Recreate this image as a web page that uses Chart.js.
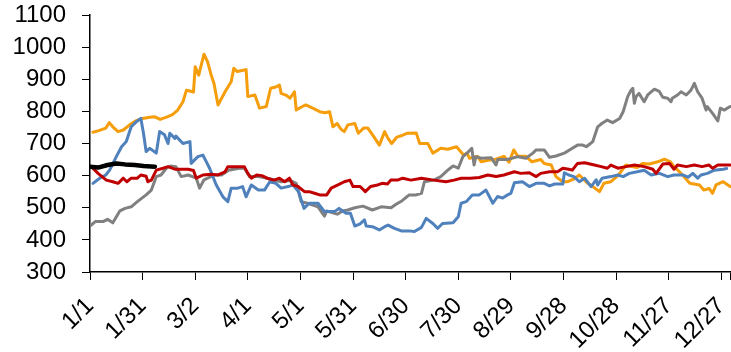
<!DOCTYPE html>
<html>
<head>
<meta charset="utf-8">
<script src="https://cdn.jsdelivr.net/npm/chart.js@4"></script>
<style>
  html, body { margin: 0; padding: 0; background: #fff; }
  #wrap { width: 731px; height: 352px; }
</style>
</head>
<body>
<div id="wrap"><canvas id="chart" width="731" height="352"></canvas></div>
<script>
// Day of year (0 = 1/1) and value pairs for each series
const tickDays = [0, 30, 60, 90, 120, 150, 180, 210, 240, 270, 300, 330, 360, 365];
const tickLabels = ['1/1', '1/31', '3/2', '4/1', '5/1', '5/31', '6/30', '7/30', '8/29', '9/28', '10/28', '11/27', '12/27', ''];

const orangeDays = [1.7,5,9,11,13,16,19,22.6,26,30,34,37,40,44,47,50,53,55,58,59,60,62,65,67,69,70.7,73,77,80.5,82,84,88,89,90,94,96.7,100.5,103,106,108,109,112,114,116.6,117.6,120,123,127,131,134,136.6,138.5,141,143,145,147,151,153,156,158.4,162,165,168,170,172,175,178,181,186,188,192.6,195.5,200,204,209,213,215,216.4,221,223,227,230.6,236,239,241.6,244,248.6,252,257,259,263,265.7,269.6,272.4,276,279,283.8,287,290.5,293,297,301,305.6,309,312,315,319,323.7,327.5,331,333,337,342,347.5,350,353,355,357,361,365];
const orangeValues = [735,740,748,765,752,737,742,758,770,778,782,783,775,783,790,804,830,866,862,860,939,913,978,955,915,887,820,861,892,934,924,929,930,846,851,810,815,872,876,882,856,850,841,861,804,812,820,810,799,796,799,752,762,745,737,758,762,732,748,748,720,695,737,715,700,720,725,732,733,700,700,670,685,682,690,664,670,654,660,643,648,650,660,642,680,660,660,643,650,638,633,597,581,581,590,602,576,565,550,576,581,600,633,628,625,638,636,643,651,643,628,607,576,571,555,560,545,571,581,566];

const grayDays = [0,3,7.4,10,13,17,20,23.5,27,32,35,37.8,40.5,43.5,46,49,52,56,60.6,62.5,65,71,75,79,85,88,91,93,96,101,109,114,117.6,120.4,124,127,130,133.7,135,138,141,144,147,151,155.6,161,166,171.7,174.5,178,182,186,189,190.7,196,200,204,207,210,212.6,215,217.7,219,220,223,228.7,231.5,232.5,238,244,248.6,252.5,254.4,259,262,265.7,270.5,275,278,281,283,286.7,289.5,292,295,298,302,304,306.6,308.5,309.5,310.4,311.4,313,316,318,321.8,324.6,326.6,329.4,331.3,332,335,337,340,342.7,344.6,346.5,349,351.3,352,355,358,359.4,361.6,365];
const grayValues = [443,457,457,464,453,490,498,503,519,540,555,597,602,623,630,628,597,602,592,561,587,602,602,617,623,623,597,597,597,592,581,585,576,519,514,508,503,474,490,485,480,490,493,500,505,493,503,500,511,522,540,540,545,581,586,597,617,630,623,659,670,685,633,659,654,656,633,650,650,659,654,670,680,680,657,661,670,685,695,695,690,706,752,763,773,765,778,799,846,866,872,825,846,856,830,851,869,862,844,841,830,841,851,861,851,866,887,861,841,804,815,794,770,810,804,815];

const blueDays = [1.7,5.5,9,11.2,15,18,20.7,23.5,26.5,29,30.5,32,34,37.8,39.7,42.5,44.5,45.5,48.4,49,53,57,57.7,61.5,64.4,68.2,72,75.8,78.6,80.5,84.3,87,89,92,96,99.5,102.5,106,109,113,115.7,119,122,125,130,133.7,139.4,142,146,148.5,151,154,156.5,157.5,161,165,168,170,173.6,177.5,182,185,189,191.7,195.5,198.3,201,207,210,211.6,214.5,218,222,225.8,229.7,232.4,235.3,238,240,242,246.6,250.5,254.4,259,262,265,269.6,270.5,273,276,279,282,285.7,288.6,289.5,292,297,301,304,307.5,312,316,320,324.7,329.4,333,338,341,343.7,346.5,348.4,352,356,361,363];
const blueValues = [576,592,602,617,659,690,706,752,768,778,732,675,685,670,737,727,700,732,716,723,700,706,638,659,664,623,571,534,519,561,561,566,534,571,555,555,581,576,561,566,571,550,498,514,514,488,488,498,483,483,443,450,462,443,441,431,441,446,436,428,428,426,439,467,451,436,451,453,472,514,519,540,540,555,514,535,530,540,545,578,581,566,576,576,568,574,574,609,602,597,581,592,566,587,571,592,597,602,597,607,612,617,602,607,597,602,602,595,607,592,602,607,617,620,622];

const redDays = [0.8,4.6,9.3,13,16,19,21,23.5,27,29,32,33,35,37.8,41.6,44.5,48.4,56,59,60.6,64.4,69,73,77,78.6,84.3,88,90,92,95,98,101,105,108,111,113.7,115.7,118.6,122.3,125,128,131,135,137.5,141.4,145,148.2,150,154,157,160,164,166.6,169.6,171.5,175.4,178.3,183,189,196,203,207.6,211.6,217,222,226.8,231.6,236,242,245.6,250.5,254.4,257,262,266.6,269.6,273,275,278,282,287.6,291.5,295,297,301,305.6,310.4,316,320.9,322.8,326.6,330.4,333,335,340,344.6,349,353,355,358,365];
const redValues = [628,607,586,581,576,592,581,592,592,602,598,581,586,617,623,628,620,620,616,592,602,604,602,612,628,628,628,607,592,602,600,592,586,592,581,592,571,566,550,550,545,540,540,561,571,581,586,566,566,550,566,571,576,574,586,586,592,586,592,586,581,586,592,592,594,602,597,602,612,607,609,597,607,612,612,623,620,617,638,640,633,628,623,633,623,628,633,628,620,607,636,638,620,633,628,633,628,633,623,633,633];

const blackDays = [0,4.6,10,15,20,25.5,30.5,37];
const blackValues = [628,625,633,638,635,633,630,628];

const toPoints = (days, values) => days.map((d, i) => ({ x: d, y: values[i] }));

const line = (days, values, color, width) => ({
  data: toPoints(days, values),
  borderColor: color,
  backgroundColor: color,
  borderWidth: width,
  pointRadius: 0,
  tension: 0,
  fill: false,
  borderJoinStyle: 'round',
  borderCapStyle: 'round'
});

const tickFont = { family: '"Liberation Sans", Arial, sans-serif', size: 24 };

new Chart(document.getElementById('chart'), {
  type: 'line',
  data: {
    datasets: [
      line(blackDays, blackValues, '#000000', 4.5),
      line(redDays, redValues, '#c00000', 3),
      line(blueDays, blueValues, '#4f81bd', 3),
      line(grayDays, grayValues, '#808080', 3),
      line(orangeDays, orangeValues, '#f59d0a', 3)
    ]
  },
  options: {
    responsive: false,
    animation: false,
    layout: { padding: { top: 15, right: 0, bottom: 0, left: 0 } },
    plugins: { legend: { display: false }, tooltip: { enabled: false } },
    scales: {
      x: {
        type: 'linear',
        min: 0,
        max: 365.5,
        afterBuildTicks: (scale) => { scale.ticks = tickDays.map(v => ({ value: v })); },
        afterFit: (scale) => { scale.height = 80; scale.paddingLeft = 0; scale.paddingRight = 0; },
        grid: { display: true, drawOnChartArea: false, drawTicks: true, tickLength: 8, color: '#000', lineWidth: 1 },
        border: { display: true, color: '#000', width: 1.5 },
        ticks: {
          autoSkip: false,
          maxRotation: 45,
          minRotation: 45,
          padding: 12,
          color: '#000',
          font: tickFont,
          callback: (value) => tickLabels[tickDays.indexOf(value)]
        }
      },
      y: {
        min: 300,
        max: 1100,
        afterFit: (scale) => { scale.width = 90; scale.paddingTop = 0; scale.paddingBottom = 0; },
        grid: { display: true, drawOnChartArea: false, drawTicks: true, tickLength: 8, color: '#000', lineWidth: 1 },
        border: { display: true, color: '#000', width: 1.5 },
        ticks: { stepSize: 100, padding: 16, color: '#000', font: tickFont, callback: (value) => String(value) }
      }
    }
  }
});
</script>
</body>
</html>
